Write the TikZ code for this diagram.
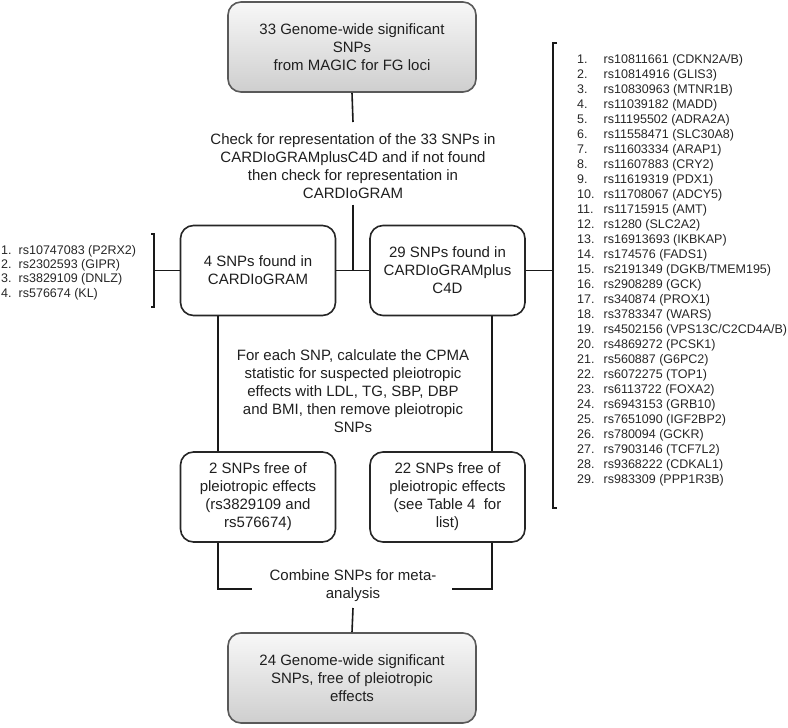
\documentclass[tikz,border=0pt]{standalone}
\usepackage{fontspec}
\setmainfont{Liberation Sans}
\begin{document}
\begin{tikzpicture}[x=1pt,y=-1pt,
  box/.style={draw=black!85, line width=1.6pt, rounded corners=13pt, align=center, inner sep=0pt,
    minimum height=90pt, text=black!88, font=\fontsize{15}{18}\selectfont},
  graybox/.style={box, top color=gray!6, bottom color=gray!38, draw=black!65, minimum width=248pt},
  whitebox/.style={box, fill=white, minimum width=155pt},
  txt/.style={align=center, inner sep=0pt, text=black!88, font=\fontsize{15}{18}\selectfont},
  lst/.style={align=left, inner sep=0pt, anchor=west, text=black!85},
  conn/.style={line width=1.6pt, black!90}]
\useasboundingbox (0,0) rectangle (788,728);

% boxes
\node[graybox] (top) at (352,47) {33 Genome-wide significant\\SNPs\\from MAGIC for FG loci};
\node[whitebox] (lb) at (258,270.5) {4 SNPs found in\\CARDIoGRAM};
\node[whitebox] (rb) at (447.5,270.5) {29 SNPs found in\\CARDIoGRAMplus\\C4D};
\node[whitebox] (llb) at (258,497) {2 SNPs free of\\pleiotropic effects\\(rs3829109 and\\rs576674)};
\node[whitebox] (lrb) at (447.5,497) {22 SNPs free of\\pleiotropic effects\\(see Table 4~ for\\list)};
\node[graybox] (bot) at (352,678) {24 Genome-wide significant\\SNPs, free of pleiotropic\\effects};

% text nodes
\node[txt] (check) at (353,166) {Check for representation of the 33 SNPs in\\CARDIoGRAMplusC4D and if not found\\then check for representation in\\CARDIoGRAM};
\node[txt] (calc) at (353,391) {For each SNP, calculate the CPMA\\statistic for suspected pleiotropic\\effects with LDL, TG, SBP, DBP\\and BMI, then remove pleiotropic\\SNPs};
\node[txt] (comb) at (353,586) {Combine SNPs for meta-\\analysis};

% lists
\node[lst, font=\fontsize{12.5}{14.4}\selectfont] (llist) at (1,272.5) {%
\makebox[17.5pt][l]{1.}rs10747083 (P2RX2)\\
\makebox[17.5pt][l]{2.}rs2302593 (GIPR)\\
\makebox[17.5pt][l]{3.}rs3829109 (DNLZ)\\
\makebox[17.5pt][l]{4.}rs576674 (KL)};
\node[lst, font=\fontsize{12.5}{15}\selectfont] (rlist) at (577,270) {%
\makebox[26.5pt][l]{1.}rs10811661 (CDKN2A/B)\\
\makebox[26.5pt][l]{2.}rs10814916 (GLIS3)\\
\makebox[26.5pt][l]{3.}rs10830963 (MTNR1B)\\
\makebox[26.5pt][l]{4.}rs11039182 (MADD)\\
\makebox[26.5pt][l]{5.}rs11195502 (ADRA2A)\\
\makebox[26.5pt][l]{6.}rs11558471 (SLC30A8)\\
\makebox[26.5pt][l]{7.}rs11603334 (ARAP1)\\
\makebox[26.5pt][l]{8.}rs11607883 (CRY2)\\
\makebox[26.5pt][l]{9.}rs11619319 (PDX1)\\
\makebox[26.5pt][l]{10.}rs11708067 (ADCY5)\\
\makebox[26.5pt][l]{11.}rs11715915 (AMT)\\
\makebox[26.5pt][l]{12.}rs1280 (SLC2A2)\\
\makebox[26.5pt][l]{13.}rs16913693 (IKBKAP)\\
\makebox[26.5pt][l]{14.}rs174576 (FADS1)\\
\makebox[26.5pt][l]{15.}rs2191349 (DGKB/TMEM195)\\
\makebox[26.5pt][l]{16.}rs2908289 (GCK)\\
\makebox[26.5pt][l]{17.}rs340874 (PROX1)\\
\makebox[26.5pt][l]{18.}rs3783347 (WARS)\\
\makebox[26.5pt][l]{19.}rs4502156 (VPS13C/C2CD4A/B)\\
\makebox[26.5pt][l]{20.}rs4869272 (PCSK1)\\
\makebox[26.5pt][l]{21.}rs560887 (G6PC2)\\
\makebox[26.5pt][l]{22.}rs6072275 (TOP1)\\
\makebox[26.5pt][l]{23.}rs6113722 (FOXA2)\\
\makebox[26.5pt][l]{24.}rs6943153 (GRB10)\\
\makebox[26.5pt][l]{25.}rs7651090 (IGF2BP2)\\
\makebox[26.5pt][l]{26.}rs780094 (GCKR)\\
\makebox[26.5pt][l]{27.}rs7903146 (TCF7L2)\\
\makebox[26.5pt][l]{28.}rs9368222 (CDKAL1)\\
\makebox[26.5pt][l]{29.}rs983309 (PPP1R3B)};

% coordinates
\coordinate (j1) at (353,270.5);
\coordinate (xl) at (218,0);
\coordinate (xr) at (492,0);
\coordinate (rbr) at (553,270.5);
\coordinate (lbr) at (154,270.5);
\coordinate (cl) at (218,589);
\coordinate (cr) at (492,589);
\coordinate (clend) at (252,589);
\coordinate (crend) at (452,589);

% connectors
\draw[conn] (top.south) -- (353,122);
\draw[conn] (check.south) ++(0,6) -- (j1);
\draw[conn] (lb.east) -- (rb.west);
\draw[conn] (rb.east) -- (rbr);
\draw[conn] (lb.west) -- (lbr);
\draw[conn] (557,43) -- (553,43) -- (553,508) -- (557,508);
\draw[conn] (151,234) -- (154,234) -- (154,307) -- (151,307);
\draw[conn] (lb.south -| xl) -- (llb.north -| xl);
\draw[conn] (rb.south -| xr) -- (lrb.north -| xr);
\draw[conn] (llb.south -| xl) -- (cl) -- (clend);
\draw[conn] (lrb.south -| xr) -- (cr) -- (crend);
\draw[conn] (353,608) -- (bot.north);
\end{tikzpicture}
\end{document}
